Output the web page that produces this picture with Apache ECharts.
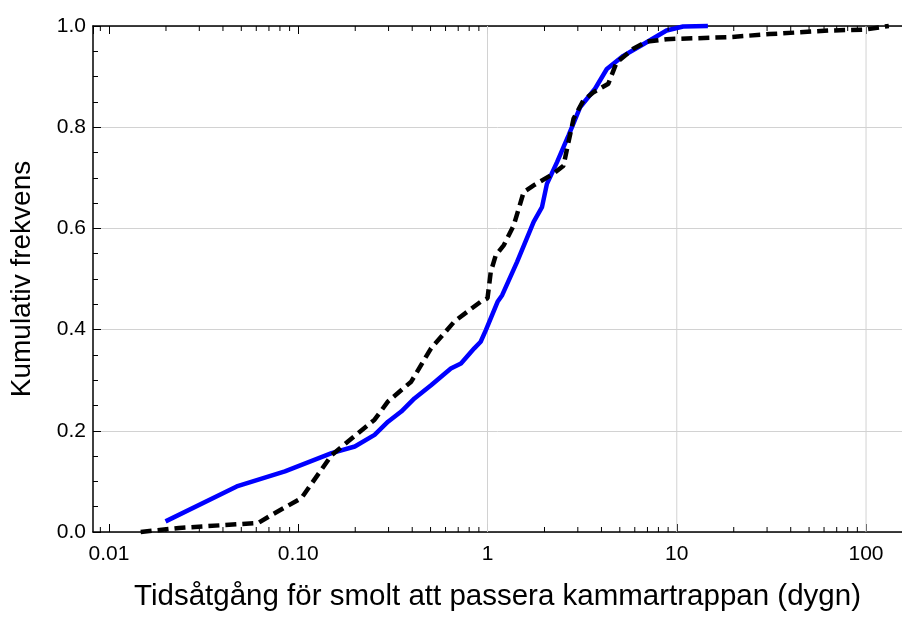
<!DOCTYPE html>
<html>
<head>
<meta charset="utf-8">
<script src="https://cdn.jsdelivr.net/npm/echarts@6/dist/echarts.min.js"></script>
<style>
  html, body { margin: 0; padding: 0; background: #fff; }
  #chart { width: 902px; height: 617px; }
</style>
</head>
<body>
<div id="chart"></div>
<script>
// Passage time (days) and cumulative frequency, solid blue curve
const blueDays = [0.0199, 0.0473, 0.085, 0.150, 0.199, 0.253, 0.298, 0.35, 0.411, 0.503, 0.64, 0.724, 0.851, 0.92, 0.98, 1.13, 1.195, 1.433, 1.753, 1.94, 2.06, 2.33, 2.68, 3.09, 3.70, 4.27, 5.22, 6.65, 8.83, 10.8, 14.6];
const blueFreq = [0.021, 0.090, 0.120, 0.156, 0.169, 0.192, 0.218, 0.238, 0.264, 0.290, 0.323, 0.333, 0.363, 0.376, 0.399, 0.455, 0.468, 0.534, 0.613, 0.642, 0.688, 0.731, 0.784, 0.840, 0.876, 0.915, 0.941, 0.964, 0.991, 0.999, 1.0];

// Passage time (days) and cumulative frequency, dashed black curve
const blackDays = [0.0147, 0.0234, 0.0616, 0.0724, 0.104, 0.150, 0.253, 0.298, 0.395, 0.503, 0.668, 0.919, 1.0, 1.04, 1.106, 1.22, 1.375, 1.553, 1.753, 2.23, 2.52, 2.63, 2.85, 3.21, 3.63, 4.35, 4.81, 5.89, 6.92, 8.83, 19.0, 30.9, 63.8, 99, 132];
const blackFreq = [0.0, 0.008, 0.018, 0.034, 0.067, 0.152, 0.222, 0.258, 0.297, 0.363, 0.416, 0.455, 0.462, 0.514, 0.547, 0.567, 0.606, 0.672, 0.685, 0.708, 0.724, 0.757, 0.817, 0.853, 0.869, 0.886, 0.928, 0.955, 0.969, 0.974, 0.978, 0.984, 0.991, 0.993, 1.0];

// Axis labels on the logarithmic time axis
const xTickValues = [0.01, 0.1, 1, 10, 100];
const xTickLabels = ['0.01', '0.10', '1', '10', '100'];
// Minor tick positions between decades
const xMinorTicks = [0.009,
  0.02, 0.03, 0.04, 0.05, 0.06, 0.07, 0.08, 0.09,
  0.2, 0.3, 0.4, 0.5, 0.6, 0.7, 0.8, 0.9,
  2, 3, 4, 5, 6, 7, 8, 9,
  20, 30, 40, 50, 60, 70, 80, 90];
// Vertical grid lines
const xGridValues = [1, 10, 100];

const xName = 'Tidsåtgång för smolt att passera kammartrappan (dygn)';
const yName = 'Kumulativ frekvens';

const FONT = '"Liberation Sans", Arial, sans-serif';
// the time axis runs on past the right edge of the page
const X_MIN = 0.00823, X_MAX = 154.9;

function pairs(xs, ys) { return xs.map((x, i) => [x, ys[i]]); }

const chart = echarts.init(document.getElementById('chart'), null, { renderer: 'canvas' });

const axisLine = { show: true, lineStyle: { color: '#000', width: 1.5 } };

chart.setOption({
  animation: false,
  backgroundColor: '#fff',
  grid: { left: 92, top: 26, right: 0, height: 507, containLabel: false },
  xAxis: [{
    type: 'log',
    logBase: 10,
    min: X_MIN,
    max: X_MAX,
    position: 'bottom',
    axisLine: axisLine,
    axisTick: { show: true, inside: true, length: 8, lineStyle: { color: '#000', width: 1 } },
    splitLine: { show: false },
    axisLabel: {
      show: true, margin: 12, color: '#000', fontSize: 21, fontFamily: FONT,
      showMinLabel: false, showMaxLabel: false,
      formatter: function (v) {
        for (let i = 0; i < xTickValues.length; i++) {
          if (Math.abs(v - xTickValues[i]) < xTickValues[i] * 1e-6) return xTickLabels[i];
        }
        return '';
      }
    },
    name: xName,
    nameLocation: 'middle',
    nameGap: 50,
    nameTextStyle: { color: '#000', fontSize: 29.5, fontFamily: FONT }
  }, {
    type: 'log',
    logBase: 10,
    min: X_MIN,
    max: X_MAX,
    position: 'top',
    axisLine: axisLine,
    axisTick: { show: true, inside: true, length: 8, lineStyle: { color: '#000', width: 1 } },
    splitLine: { show: false },
    axisLabel: { show: false }
  }],
  yAxis: {
    type: 'value',
    min: 0,
    max: 1,
    interval: 0.2,
    axisLine: axisLine,
    axisTick: { show: true, inside: true, length: 8, lineStyle: { color: '#000', width: 1 } },
    minorTick: { show: true, splitNumber: 4, length: 5, lineStyle: { color: '#000', width: 1 } },
    splitLine: { show: true, lineStyle: { color: '#d2d2d2', width: 1 } },
    axisLabel: {
      margin: 7, color: '#000', fontSize: 21, fontFamily: FONT,
      formatter: v => v.toFixed(1)
    },
    name: yName,
    nameLocation: 'middle',
    nameGap: 57,
    nameRotate: 90,
    nameTextStyle: { color: '#000', fontSize: 28, fontFamily: FONT }
  },
  series: [
    {
      // vertical grid lines at whole decades
      type: 'custom',
      silent: true,
      z: 1,
      xAxisIndex: 0, yAxisIndex: 0,
      data: xGridValues.map(v => [v]),
      renderItem: function (params, api) {
        const b = api.coord([api.value(0), 0]);
        const t = api.coord([api.value(0), 1]);
        return { type: 'line', shape: { x1: b[0], y1: b[1], x2: t[0], y2: t[1] },
                 style: { stroke: '#d2d2d2', lineWidth: 1 } };
      }
    },
    {
      // minor ticks on bottom and top frame
      type: 'custom',
      silent: true,
      z: 5,
      xAxisIndex: 0, yAxisIndex: 0,
      clip: false,
      data: xMinorTicks.map(v => [v]),
      renderItem: function (params, api) {
        const b = api.coord([api.value(0), 0]);
        const t = api.coord([api.value(0), 1]);
        const s = { stroke: '#000', lineWidth: 1 };
        return { type: 'group', children: [
          { type: 'line', shape: { x1: b[0], y1: b[1], x2: b[0], y2: b[1] - 5 }, style: s },
          { type: 'line', shape: { x1: t[0], y1: t[1], x2: t[0], y2: t[1] + 5 }, style: s }
        ] };
      }
    },
    {
      type: 'line',
      z: 3,
      data: pairs(blueDays, blueFreq),
      showSymbol: false,
      symbol: 'none',
      lineStyle: { color: '#0000ff', width: 4.5 },
      clip: false
    },
    {
      type: 'line',
      z: 4,
      data: pairs(blackDays, blackFreq),
      showSymbol: false,
      symbol: 'none',
      lineStyle: { color: '#000', width: 4.5, type: [11, 6] },
      clip: false
    }
  ]
});
</script>
</body>
</html>
